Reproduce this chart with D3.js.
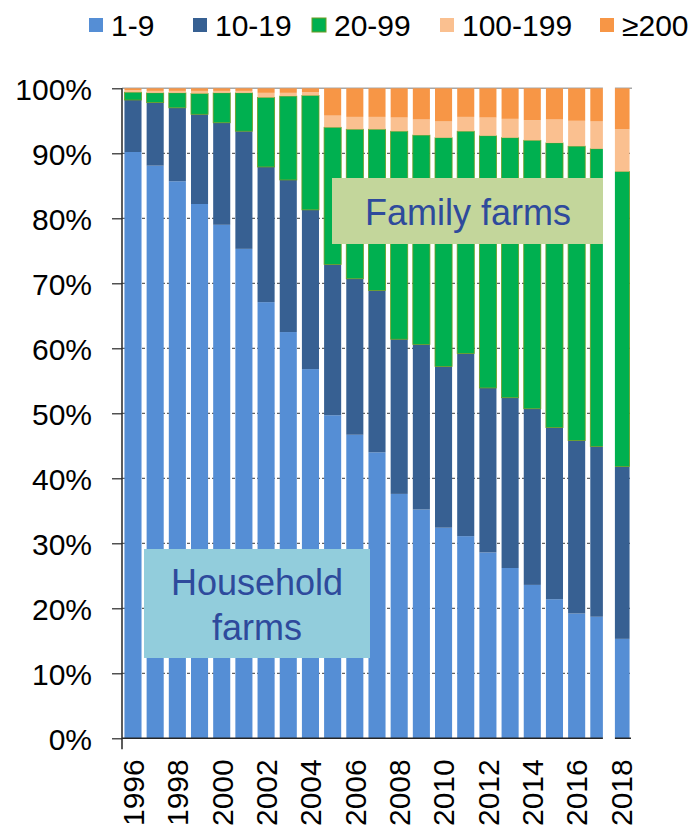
<!DOCTYPE html>
<html>
<head>
<meta charset="utf-8">
<script src="https://cdn.jsdelivr.net/npm/d3@7"></script>
<style>
  body { margin: 0; background: #fff; }
  text { font-family: "Liberation Sans", Arial, sans-serif; }
</style>
</head>
<body>
<div class="chart"></div>
<script>
// farm size shares (% of farms)
const years = [1996, 1997, 1998, 1999, 2000, 2001, 2002, 2003, 2004, 2005, 2006, 2007,
               2008, 2009, 2010, 2011, 2012, 2013, 2014, 2015, 2016, 2017, 2018];
const size1to9 = [90.2, 88.1, 85.7, 82.2, 79.0, 75.3, 67.1, 62.5, 56.8, 49.7, 46.7, 44.0,
                  37.6, 35.2, 32.4, 31.1, 28.6, 26.2, 23.6, 21.4, 19.2, 18.7, 15.3];
const size10to19 = [8.0, 9.7, 11.3, 13.8, 15.7, 18.1, 20.8, 23.4, 24.5, 23.2, 24.0, 24.9,
                    23.8, 25.4, 24.8, 28.1, 25.3, 26.2, 27.1, 26.4, 26.6, 26.2, 26.5];
const size20to99 = [1.2, 1.5, 2.3, 3.2, 4.6, 5.9, 10.7, 12.9, 17.6, 21.1, 23.0, 24.8,
                    32.0, 32.2, 35.2, 34.2, 38.8, 40.0, 41.3, 43.8, 45.3, 45.8, 45.4];
const size100to199 = [0.3, 0.3, 0.3, 0.4, 0.3, 0.3, 0.7, 0.5, 0.5, 1.8, 1.9, 1.9,
                      2.1, 2.4, 2.5, 2.2, 2.8, 2.9, 3.1, 3.6, 3.9, 4.2, 6.5];
const size200plus = [0.3, 0.4, 0.4, 0.4, 0.4, 0.4, 0.7, 0.7, 0.6, 4.2, 4.4, 4.4,
                     4.5, 4.8, 5.1, 4.4, 4.5, 4.7, 4.9, 4.8, 5.0, 5.1, 6.3];

const seriesNames = ["1-9", "10-19", "20-99", "100-199", "≥200"];
const seriesValues = [size1to9, size10to19, size20to99, size100to199, size200plus];
const colors = ["#558ED5", "#376092", "#00B050", "#FAC090", "#F79646"];
const yTicks = [0, 10, 20, 30, 40, 50, 60, 70, 80, 90, 100];
const xLabelYears = [1996, 1998, 2000, 2002, 2004, 2006, 2008, 2010, 2012, 2014, 2016, 2018];

// rows for d3.stack
const rows = years.map((y, i) => {
    const r = { year: y };
    seriesNames.forEach((k, j) => r[k] = seriesValues[j][i]);
    return r;
});

const outerWidth = 690;
const outerHeight = 831;
const margin = { top: 88.3, left: 122, bottom: 92.7, right: 58 };
const width = outerWidth - margin.left - margin.right;
const height = outerHeight - margin.top - margin.bottom;

const svg = d3.select(".chart")
    .append("svg")
    .attr("width", outerWidth)
    .attr("height", outerHeight);

const g = svg.append("g")
    .attr("transform", `translate(${margin.left}, ${margin.top})`);

const xScale = d3.scaleBand()
    .domain(years)
    .range([0, 510])
    .paddingInner(0.23)
    .paddingOuter(0.11);

const yScale = d3.scaleLinear()
    .domain([0, 100])
    .range([height, 0]);

// dashed gridlines behind the bars
g.append("g")
    .selectAll("line")
    .data(yTicks.filter(d => d > 0 && d < 100))
    .join("line")
    .attr("x1", 0)
    .attr("x2", 510)
    .attr("y1", d => yScale(d))
    .attr("y2", d => yScale(d))
    .attr("stroke", "#3a3a3a")
    .attr("stroke-width", 1)
    .attr("stroke-dasharray", "3,2");

g.append("line")
    .attr("x1", 0).attr("x2", 510)
    .attr("y1", yScale(100)).attr("y2", yScale(100))
    .attr("stroke", "#a6a6a6")
    .attr("stroke-width", 1.5);

// stacked bars
const stack = d3.stack().keys(seriesNames);
const layers = stack(rows);

g.append("defs").append("clipPath")
    .attr("id", "plot-clip")
    .append("rect")
    .attr("x", 0).attr("y", -5)
    .attr("width", 508).attr("height", height + 5);

const barsG = g.append("g").attr("clip-path", "url(#plot-clip)");

barsG.selectAll("g.layer")
    .data(layers)
    .join("g")
    .attr("class", "layer")
    .attr("fill", (d, i) => colors[i])
    .attr("stroke", (d, i) => i === 2 ? "#6f9b22" : "none")
    .attr("stroke-width", 0.8)
    .selectAll("rect")
    .data(d => d)
    .join("rect")
    .attr("x", d => xScale(d.data.year))
    .attr("width", xScale.bandwidth())
    .attr("y", d => yScale(d[1]))
    .attr("height", d => yScale(d[0]) - yScale(d[1]));

// y axis
const yAxis = d3.axisLeft(yScale)
    .tickValues(yTicks)
    .tickSize(10)
    .tickSizeOuter(0)
    .tickFormat(d => d + "%");

const gy = g.append("g")
    .attr("class", "axis-y-axis")
    .call(yAxis);
gy.select(".domain").remove();
gy.selectAll(".tick line").attr("stroke", "#262626").attr("stroke-width", 1.2);
gy.selectAll(".tick text")
    .attr("x", -30)
    .attr("font-size", 30)
    .attr("fill", "#000")
    .attr("dy", "0.36em")
    .style("font-family", "'Liberation Sans', Arial, sans-serif");

g.append("line")
    .attr("x1", 0).attr("x2", 0)
    .attr("y1", yScale(100)).attr("y2", height + 11)
    .attr("stroke", "#262626")
    .attr("stroke-width", 1.5);

// x axis
g.append("line")
    .attr("x1", 0).attr("x2", 509)
    .attr("y1", height).attr("y2", height)
    .attr("stroke", "#262626")
    .attr("stroke-width", 1.5);

const xAxis = d3.axisBottom(xScale)
    .tickValues(xLabelYears)
    .tickSize(0);

const gx = g.append("g")
    .attr("class", "axis-x-axis")
    .attr("transform", `translate(0, ${height})`)
    .call(xAxis);
gx.select(".domain").remove();
gx.selectAll(".tick text")
    .attr("transform", "rotate(-90)")
    .attr("x", -21)
    .attr("y", 0)
    .attr("dy", "0.36em")
    .attr("text-anchor", "end")
    .attr("font-size", 30)
    .attr("fill", "#000")
    .style("font-family", "'Liberation Sans', Arial, sans-serif");

// axis break between 2017 and 2018
g.append("rect")
    .attr("x", xScale(2017) + 12.6)
    .attr("y", -8)
    .attr("width", 12)
    .attr("height", height + 30)
    .attr("fill", "#fff");

// annotation boxes
const notes = svg.append("g").attr("class", "notes");

notes.append("rect")
    .attr("x", 332).attr("y", 178)
    .attr("width", 271).attr("height", 66)
    .attr("fill", "#C3D69B");
notes.append("text")
    .attr("x", 468).attr("y", 225)
    .attr("text-anchor", "middle")
    .attr("font-size", 36)
    .attr("fill", "#2E4A9C")
    .text("Family farms");

notes.append("rect")
    .attr("x", 144).attr("y", 549)
    .attr("width", 226).attr("height", 109)
    .attr("fill", "#92CDDC");
notes.append("text")
    .attr("text-anchor", "middle")
    .attr("font-size", 36)
    .attr("fill", "#2E4A9C")
    .selectAll("tspan")
    .data(["Household", "farms"])
    .join("tspan")
    .attr("x", 257)
    .attr("y", (d, i) => 595 + i * 45)
    .text(d => d);

// legend
const legendX = [89, 193, 312, 440, 600];
const legend = svg.append("g").attr("class", "legend");
const items = legend.selectAll("g")
    .data(seriesNames)
    .join("g")
    .attr("transform", (d, i) => `translate(${legendX[i]}, 18)`);
items.append("rect")
    .attr("width", 14).attr("height", 14)
    .attr("fill", (d, i) => colors[i])
    .attr("stroke", (d, i) => i === 2 ? "#6f9b22" : "none");
items.append("text")
    .attr("x", 22)
    .attr("y", 18)
    .attr("font-size", 30)
    .attr("fill", "#000")
    .text(d => d);
</script>
</body>
</html>
